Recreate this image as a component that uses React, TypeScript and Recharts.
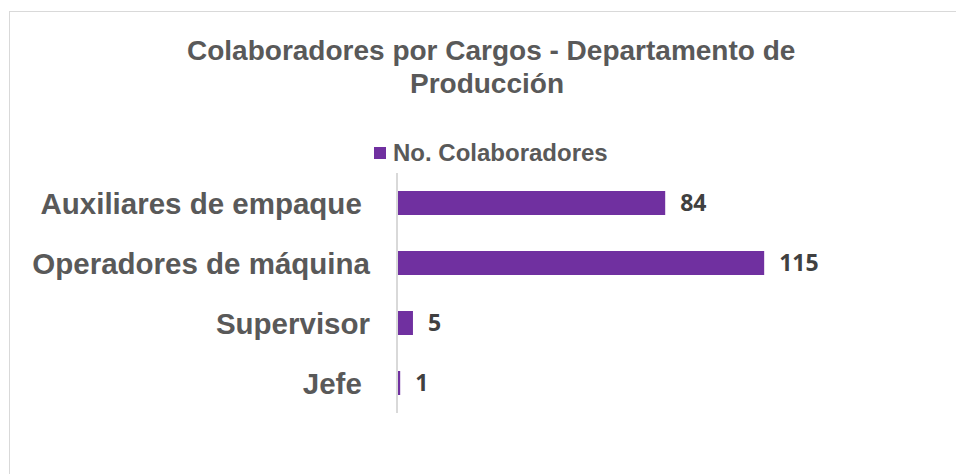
import React from "react";
import { Bar, BarChart, LabelList, XAxis, YAxis } from "recharts";

const cargos = ["Auxiliares de empaque ", "Operadores de máquina", "Supervisor", "Jefe "];
const colaboradores = [84, 115, 5, 1];
const serieNombre = "No. Colaboradores";
const titulo = ["Colaboradores por Cargos - Departamento de", "Producción"];

const morado = "#7030A0";
const gris = "#595959";

const data = cargos.map((c, i) => ({ cargo: c, valor: colaboradores[i] }));

function CargoTick(props: any) {
  const { x, y, payload } = props;
  return (
    <text
      x={x}
      y={y}
      dy="0.36em"
      textAnchor="end"
      fill={gris}
      fontSize={29.5}
      fontWeight="bold"
      fontFamily="'Liberation Sans', Arial, sans-serif"
      style={{ whiteSpace: "pre" }}
    >
      {payload.value}
    </text>
  );
}

export default function App() {
  return (
    <div
      style={{
        position: "fixed",
        left: 0,
        top: 0,
        width: 956,
        height: 474,
        background: "#fff",
        overflow: "hidden",
        fontFamily: "'Liberation Sans', Arial, sans-serif",
      }}
    >
      <div
        style={{
          position: "absolute",
          left: 9,
          top: 11,
          width: 1000,
          height: 520,
          border: "1px solid #d9d9d9",
        }}
      />
      <div
        style={{
          position: "absolute",
          left: 187,
          width: 600,
          top: 34,
          textAlign: "center",
          color: gris,
          fontWeight: "bold",
          fontSize: 28,
          lineHeight: "33px",
        }}
      >
        {titulo.map((t) => (
          <div key={t} style={{ whiteSpace: "nowrap" }}>
            {t}
          </div>
        ))}
      </div>
      <div
        style={{
          position: "absolute",
          left: 374,
          top: 139,
          display: "flex",
          alignItems: "center",
          gap: 7,
          color: gris,
          fontWeight: "bold",
          fontSize: 24,
          lineHeight: "28px",
        }}
      >
        <span style={{ display: "inline-block", width: 12, height: 12, background: morado }} />
        {serieNombre}
      </div>
      <div style={{ position: "absolute", left: 0, top: 0 }}>
        <BarChart
          width={956}
          height={474}
          data={data}
          layout="vertical"
          margin={{ top: 173, right: 112, bottom: 61, left: 0 }}
          barSize={24}
        >
          <XAxis type="number" hide domain={[0, 140]} allowDataOverflow />
          <YAxis
            type="category"
            dataKey="cargo"
            width={397}
            axisLine={{ stroke: "#d9d9d9", strokeWidth: 2 }}
            tickLine={false}
            tickSize={0}
            tickMargin={27}
            tick={<CargoTick />}
            interval={0}
          />
          <Bar dataKey="valor" fill={morado} isAnimationActive={false}>
            <LabelList
              dataKey="valor"
              position="right"
              offset={15}
              fill="#404040"
              fontSize={23}
              fontWeight="bold"
              fontFamily="'Open Sans', sans-serif"
            />
          </Bar>
        </BarChart>
      </div>
    </div>
  );
}
